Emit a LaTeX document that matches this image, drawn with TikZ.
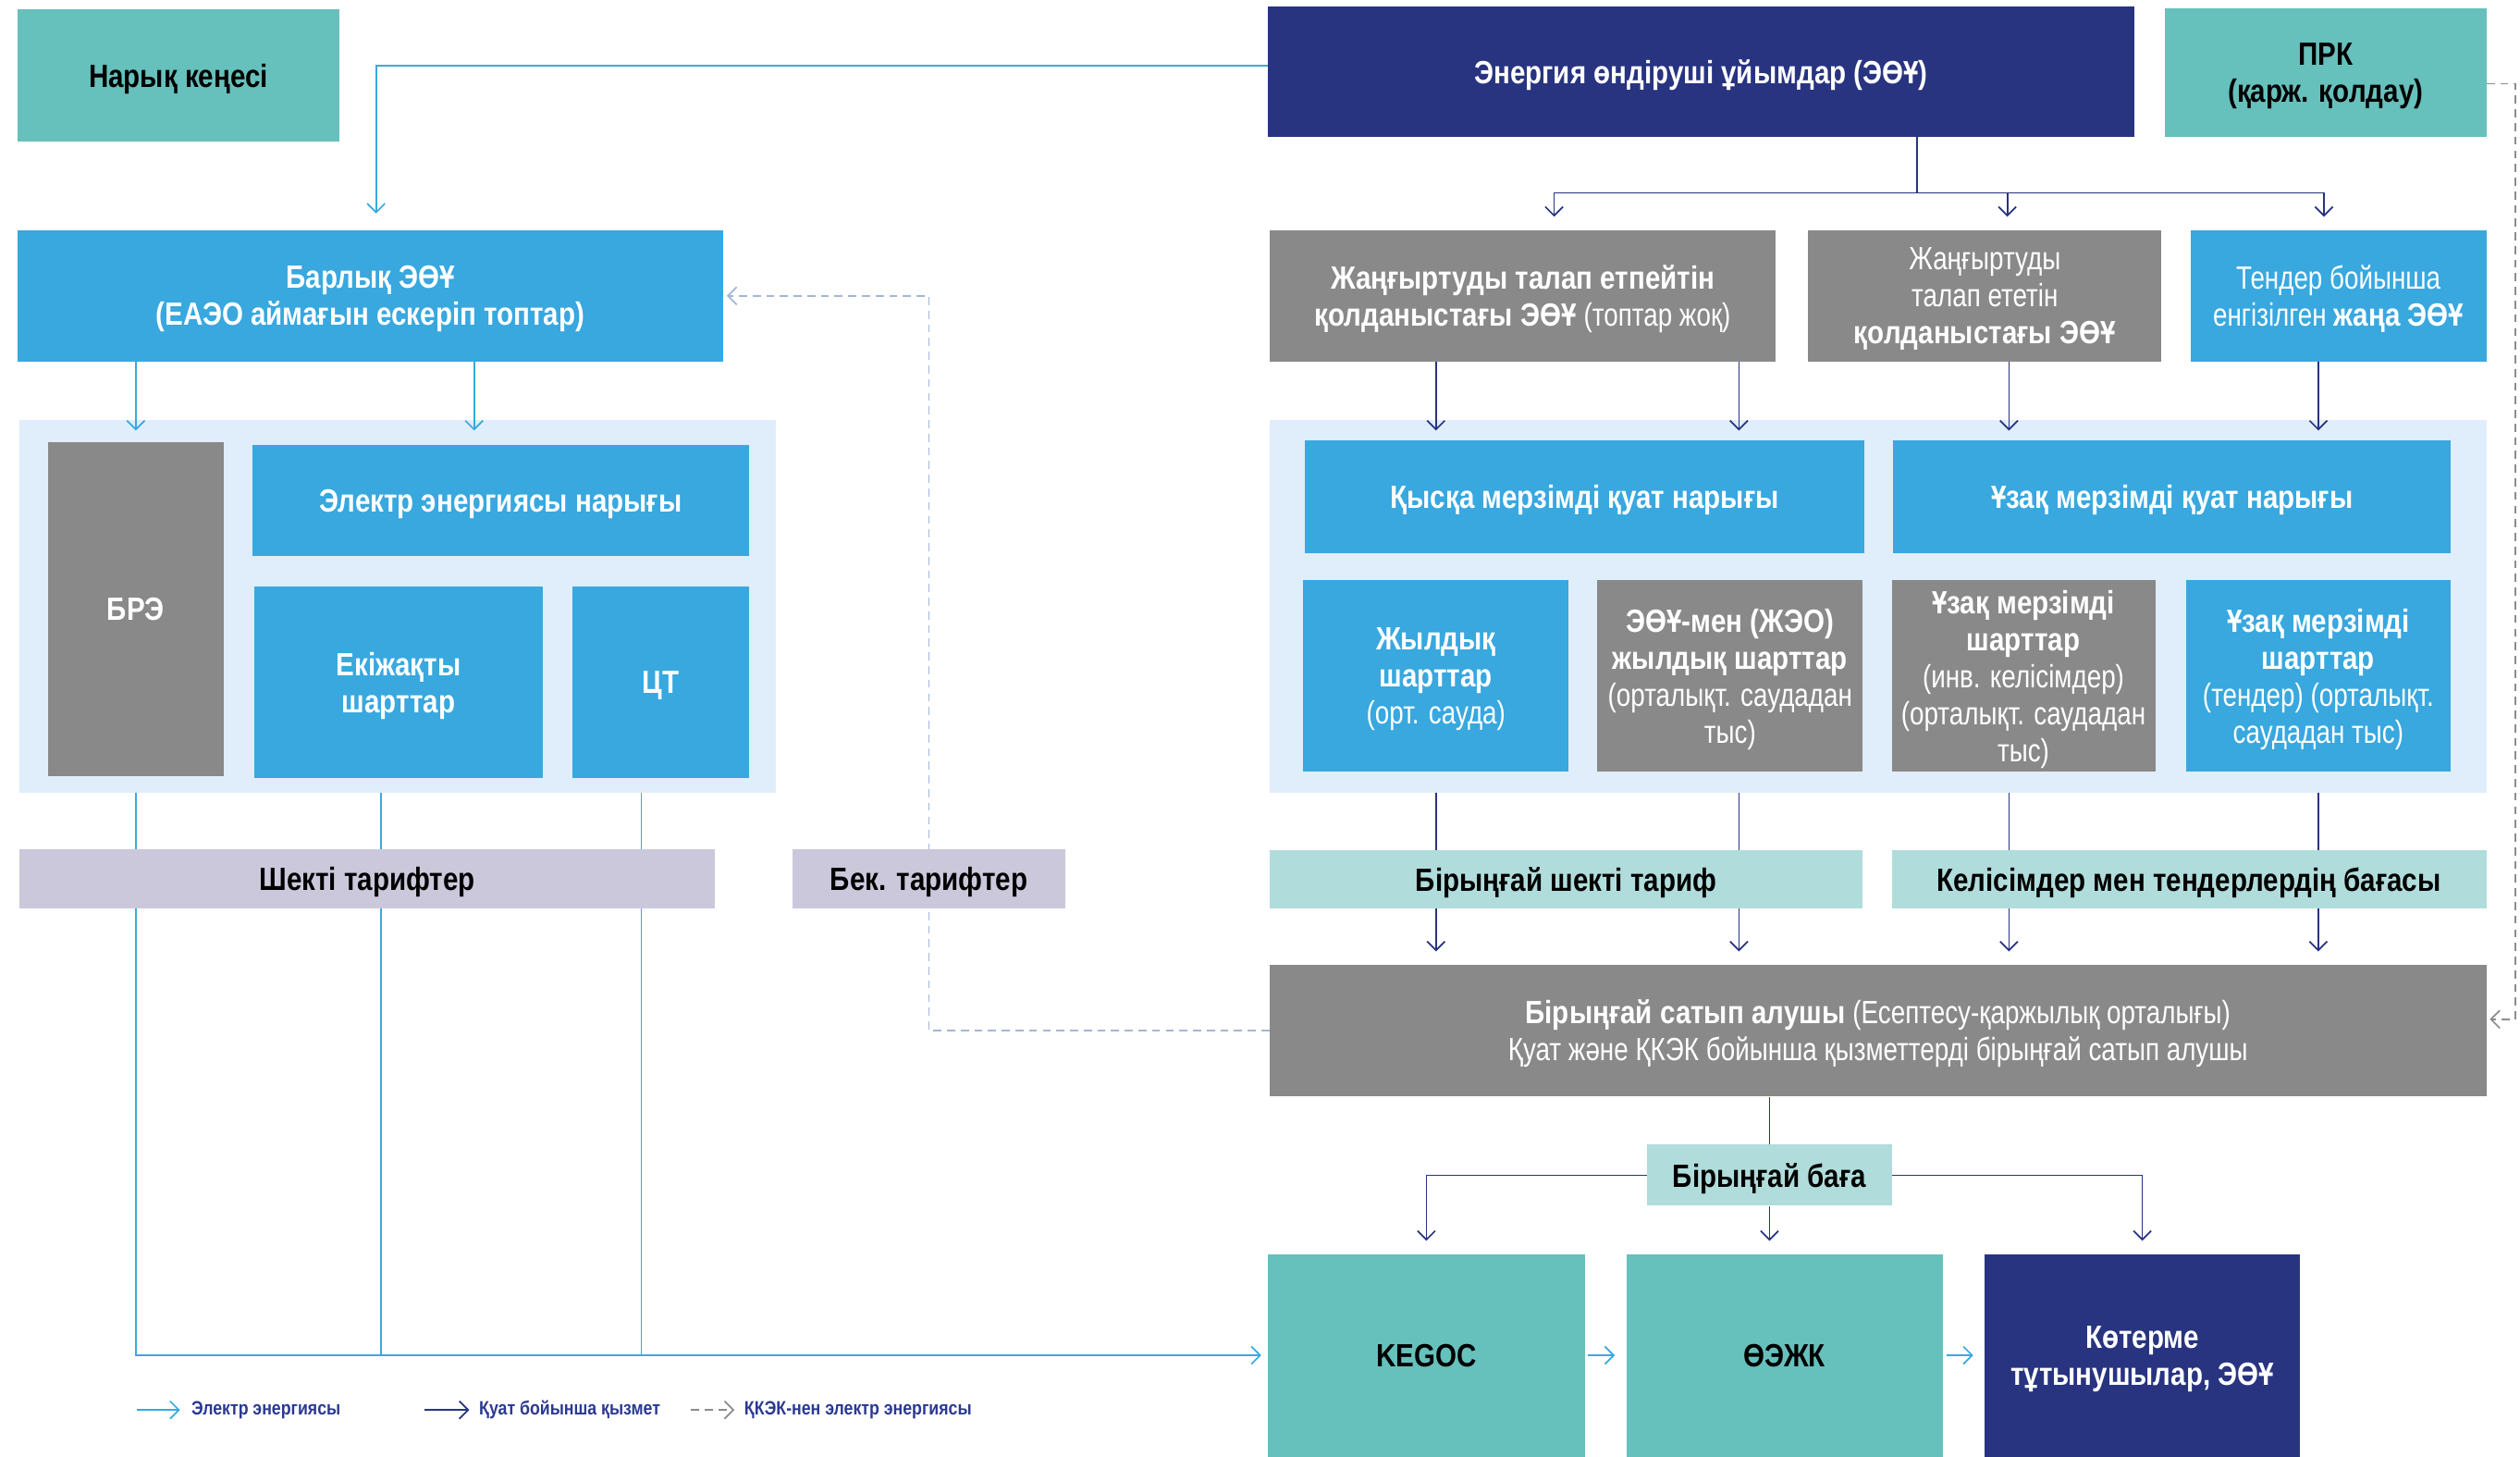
\documentclass[tikz,border=0pt]{standalone}
\usepackage{fontspec}
\setmainfont{Liberation Sans}[FakeStretch=0.8, BoldFeatures={FakeStretch=0.85}]
\usetikzlibrary{arrows,arrows.meta,backgrounds,positioning}

\definecolor{tealc}{HTML}{66C0BC}
\definecolor{bluec}{HTML}{38A8DF}
\definecolor{navyc}{HTML}{283480}
\definecolor{grayc}{HTML}{898989}
\definecolor{lilacc}{HTML}{CCC8DB}
\definecolor{mintc}{HTML}{B0DCDB}
\definecolor{panelc}{HTML}{E0EDFA}
\definecolor{elecc}{HTML}{39A9E0}
\definecolor{chpc}{HTML}{A3B6DA}
\definecolor{chpgrayc}{HTML}{8C8C8C}
\definecolor{legendc}{HTML}{2B3990}

\tikzset{
  wh/.style 2 args={minimum width=#1pt, minimum height=#2pt},
  box/.style={rectangle, inner sep=0pt, align=center, text=white, text depth=0pt,
    font=\bfseries\fontsize{20}{23}\selectfont},
  tealnode/.style={box, fill=tealc, text=black},
  bluenode/.style={box, fill=bluec},
  navynode/.style={box, fill=navyc},
  graynode/.style={box, fill=grayc},
  lilacnode/.style={box, fill=lilacc, text=black},
  mintnode/.style={box, fill=mintc, text=black},
  panel/.style={rectangle, inner sep=0pt, fill=panelc},
  legend/.style={anchor=west, inner sep=0pt, text=legendc,
    font=\bfseries\fontsize{12}{14}\selectfont},
  elecline/.style={draw=elecc, line width=1pt},
  elec/.style={elecline, ->, shorten >=8pt},
  powline/.style={draw=navyc, line width=1pt},
  pow/.style={powline, ->, shorten >=8pt},
  chp/.style={draw=chpc, line width=1pt, dash pattern=on 5pt off 3.5pt, ->, shorten >=2pt},
  chpgray/.style={chp, draw=chpgrayc},
  >={Straight Barb[length=5.5pt, width=11pt]}
}

\begin{document}
\begin{tikzpicture}[x=1pt, y=-1pt]
    \useasboundingbox (0,0) rectangle (1568,906);
    % Panels:
    \begin{scope}[on background layer]
    \node[panel, wh={471}{232}] (lpanel) at (247.5,377) {};
    \node[panel, wh={757}{232}] (rpanel) at (1168.5,377) {};
    \end{scope}

    % Left part:
    \node[tealnode, wh={200}{82}] (market) at (111,47) {Нарық кеңесі};
    \node[bluenode, wh={439}{82}] (all) at (230.5,184)
        {Барлық ЭӨҰ\\(ЕАЭО аймағын ескеріп топтар)};
    \node[graynode, wh={109}{208}] (bre) at (84.5,379) {БРЭ};
    \node[bluenode, wh={309}{69}] (een) at (311.5,311.5) {Электр энергиясы нарығы};
    \node[bluenode, wh={180}{119}] (bilat) at (248,424.5) {Екіжақты\\шарттар};
    \node[bluenode, wh={110}{119}] (ct) at (411,424.5) {ЦТ};
    \node[lilacnode, wh={433}{37}] (capped) at (228.5,546.5) {Шекті тарифтер};
    \node[lilacnode, wh={170}{37}] (bek) at (578,546.5) {Бек. тарифтер};

    % Right part:
    \node[navynode, wh={539}{81}] (eou) at (1058.5,44.5) {Энергия өндіруші ұйымдар (ЭӨҰ)};
    \node[tealnode, wh={200}{80}] (prk) at (1447,45) {ПРК\\(қарж. қолдау)};
    \node[graynode, wh={315}{82}] (g1) at (947.5,184)
        {Жаңғыртуды талап етпейтін\\қолданыстағы ЭӨҰ {\mdseries(топтар жоқ)}};
    \node[graynode, wh={220}{82}] (g2) at (1235,184)
        {\mdseries Жаңғыртуды\\\mdseries талап ететін\\\bfseries қолданыстағы ЭӨҰ};
    \node[bluenode, wh={184}{82}] (g3) at (1455,184)
        {\mdseries Тендер бойынша\\\mdseries енгізілген \bfseries жаңа ЭӨҰ};
    \node[bluenode, wh={348}{70}] (short) at (986,309) {Қысқа мерзімді қуат нарығы};
    \node[bluenode, wh={347}{70}] (long) at (1351.5,309) {Ұзақ мерзімді қуат нарығы};
    \node[bluenode, wh={165}{119}] (annual) at (893.5,420.5)
        {Жылдық\\шарттар\\\mdseries(орт. сауда)};
    \node[graynode, wh={165}{119}] (chp) at (1076.5,420.5)
        {ЭӨҰ-мен (ЖЭО)\\жылдық шарттар\\\mdseries(орталықт. саудадан\\\mdseries тыс)};
    \node[graynode, wh={164}{119}] (inv) at (1259,420.5)
        {Ұзақ мерзімді\\шарттар\\\mdseries(инв. келісімдер)\\\mdseries(орталықт. саудадан\\\mdseries тыс)};
    \node[bluenode, wh={165}{119}] (tender) at (1442.5,420.5)
        {Ұзақ мерзімді\\шарттар\\\mdseries(тендер) (орталықт.\\\mdseries саудадан тыс)};
    \node[mintnode, wh={369}{36}] (single) at (974.5,547) {Бірыңғай шекті тариф};
    \node[mintnode, wh={370}{36}] (prices) at (1362,547) {Келісімдер мен тендерлердің бағасы};
    \node[graynode, wh={757}{82}] (buyer) at (1168.5,641)
        {Бірыңғай сатып алушы {\mdseries(Есептесу-қаржылық орталығы)}\\
         \mdseries Қуат және ҚКЭК бойынша қызметтерді бірыңғай сатып алушы};
    \node[mintnode, wh={152}{38}] (price) at (1101,731) {Бірыңғай баға};
    \node[tealnode, wh={197}{126}] (kegoc) at (887.5,843) {KEGOC};
    \node[tealnode, wh={197}{126}] (oezhk) at (1110.5,843) {ӨЭЖК};
    \node[navynode, wh={196}{126}] (whole) at (1333,843) {Көтерме\\тұтынушылар, ЭӨҰ};

    % Legend:
    \node[legend] (lg1) at (119,877) {Электр энергиясы};
    \node[legend] (lg2) at (298,877) {Қуат бойынша қызмет};
    \node[legend] (lg3) at (463,877) {ҚКЭК-нен электр энергиясы};
    \coordinate (split) at (1193,120);

    % Connectors:
    \begin{scope}[on background layer]
    \draw[elec, shorten >=10pt] (eou.west |- 0,41) -| (all.north -| 234,0);
    \draw[elec, shorten >=7pt] (all.south -| bre.north) -- (bre.north);
    \draw[elec, shorten >=9pt] (all.south -| 295,0) -- (een.north -| 295,0);
    \draw[elec, shorten >=4pt] (lpanel.south -| bre.south) |- (kegoc.west);
    \draw[elecline] (lpanel.south -| 237,0) -- (237,0 |- kegoc.west);
    \draw[elecline] (lpanel.south -| 399,0) -- (399,0 |- kegoc.west);
    \draw[elec, shorten <=2pt, shorten >=7pt] (kegoc.east) -- (oezhk.west);
    \draw[elec, shorten <=2pt, shorten >=7pt] (oezhk.east) -- (whole.west);

    \draw[powline] (eou.south -| split) -- (split);
    \draw[pow] (split) -| (g1.north -| 967,0);
    \draw[pow] (split) -| (g2.north -| 1249,0);
    \draw[pow] (split) -| (g3.north -| 1446,0);
    \draw[pow, shorten >=6pt] (g1.south -| annual.north) -- (short.north -| annual.north);
    \draw[pow, shorten >=6pt] (g1.south -| 1082,0) -- (short.north -| 1082,0);
    \draw[pow, shorten >=6pt] (g2.south -| 1250,0) -- (long.north -| 1250,0);
    \draw[pow, shorten >=6pt] (g3.south -| tender.north) -- (long.north -| tender.north);
    \draw[pow] (rpanel.south -| annual.south) -- (buyer.north -| annual.south);
    \draw[pow] (rpanel.south -| 1082,0) -- (buyer.north -| 1082,0);
    \draw[pow] (rpanel.south -| 1250,0) -- (buyer.north -| 1250,0);
    \draw[pow] (rpanel.south -| tender.south) -- (buyer.north -| tender.south);
    \draw[powline] (buyer.south -| price.north) -- (price.north);
    \draw[pow] (price.west) -| (kegoc.north);
    \draw[pow] (price.east) -| (whole.north);
    \draw[pow] (price.south) -- (oezhk.north -| price.south);

    \draw[chp] (buyer.west) -| (bek.center) |- (all.east);
    \draw[chpgray] (prk.east |- 0,52) -- ++(18,0) |- ([yshift=7pt]buyer.east);

    \draw[elec, shorten >=7pt] ([xshift=-34pt]lg1.west) -- (lg1.west);
    \draw[pow, shorten >=6pt] ([xshift=-34pt]lg2.west) -- (lg2.west);
    \draw[chpgray, shorten >=6pt] ([xshift=-33pt]lg3.west) -- (lg3.west);
    \end{scope}
\end{tikzpicture}
\end{document}
